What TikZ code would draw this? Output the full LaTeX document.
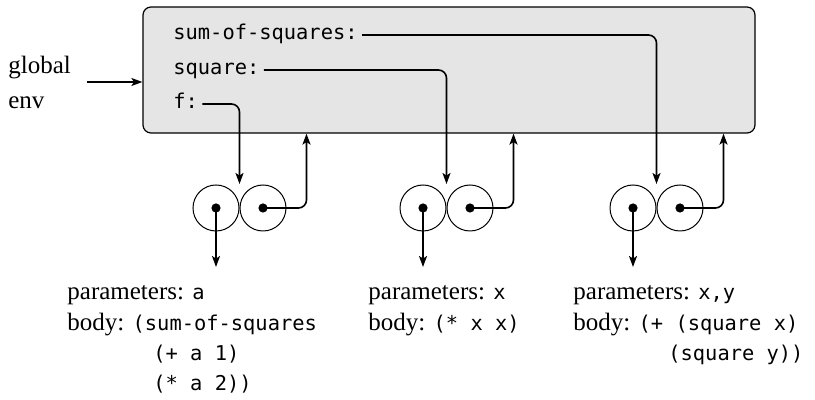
\documentclass[tikz,border=0pt]{standalone}
\usepackage{fontspec}
\usepackage{tikz}
\usetikzlibrary{arrows.meta, positioning}
\setmainfont{Liberation Serif}
\newfontfamily\codefont{DejaVu Sans Mono}
\newcommand{\cd}[1]{{\codefont\fontsize{10.2}{12}\selectfont #1}}

\begin{document}
\begin{tikzpicture}[x=0.5pt, y=-0.5pt,
  envbox/.style={draw, fill=black!10, rounded corners=4pt, line width=0.6pt,
    minimum width=306pt, minimum height=63pt},
  cell/.style={draw, circle, minimum size=23pt, inner sep=0pt, line width=0.5pt},
  conn/.style={-{Stealth[length=5.5pt, width=4pt, inset=1.3pt]}, line width=0.8pt, rounded corners=4pt},
  code/.style={font=\codefont\fontsize{10.2}{12}\selectfont, inner sep=0pt},
  txt/.style={font=\fontsize{12.5}{17.5}\selectfont, inner sep=0pt}]
  \useasboundingbox (0,0) rectangle (815,400);
  % global environment frame
  \node[envbox] (env) at (449,70) {};
  \node[code, anchor=mid west, inner xsep=2pt] (sos) at (169,35) {sum-of-squares:};
  \node[code, anchor=mid west, inner xsep=2pt] (sq) at (169,70) {square:};
  \node[code, anchor=mid west, inner xsep=2pt] (f) at (169,104) {f:};
  \node[txt, align=left, anchor=west] (genv) at (8,82) {global\\env};
  \draw[conn] ([xshift=8pt]genv.east) -- (genv.east -| env.west);
  % procedure objects
  \foreach \n/\x in {p1/216, p2/423, p3/633} {
    \node[cell] (\n-a) at (\x,208) {};
    \node[cell, right=0pt of \n-a] (\n-b) {};
    \fill (\n-a.center) circle (2.3pt);
    \fill (\n-b.center) circle (2.3pt);
    \coordinate[right=10pt of \n-b.east] (\n-r);
  }
  % bindings
  \draw[conn] (f.mid east) -| ([yshift=12pt]p1-a.east);
  \draw[conn] (sq.mid east) -| ([yshift=12pt]p2-a.east);
  \draw[conn] (sos.mid east) -| ([yshift=12pt]p3-a.east);
  % environment pointers
  \draw[conn] (p1-b.center) -| (p1-r |- env.south);
  \draw[conn] (p2-b.center) -| (p2-r |- env.south);
  \draw[conn] (p3-b.center) -| (p3-r |- env.south);
  % code pointers
  \draw[conn] (p1-a.center) -- ([yshift=-29.5pt]p1-a.center);
  \draw[conn] (p2-a.center) -- ([yshift=-29.5pt]p2-a.center);
  \draw[conn] (p3-a.center) -- ([yshift=-29.5pt]p3-a.center);
  % parameters and bodies
  \node[txt, anchor=base west] (par1) at (67,300) {parameters: \cd{a}};
  \node[txt, anchor=base west] (body1) at (67,331) {body: \cd{(sum-of-squares}};
  \node[code, anchor=base west] (body1b) at (153,361) {(+ a 1)};
  \node[code, anchor=base west] (body1c) at (153,391) {(* a 2))};
  \node[txt, anchor=base west] (par2) at (368,300) {parameters: \cd{x}};
  \node[txt, anchor=base west] (body2) at (368,331) {body: \cd{(* x x)}};
  \node[txt, anchor=base west] (par3) at (573,300) {parameters: \cd{x,y}};
  \node[txt, anchor=base west] (body3) at (573,331) {body: \cd{(+ (square x)}};
  \node[code, anchor=base west] (body3b) at (668,361) {(square y))};
\end{tikzpicture}
\end{document}
